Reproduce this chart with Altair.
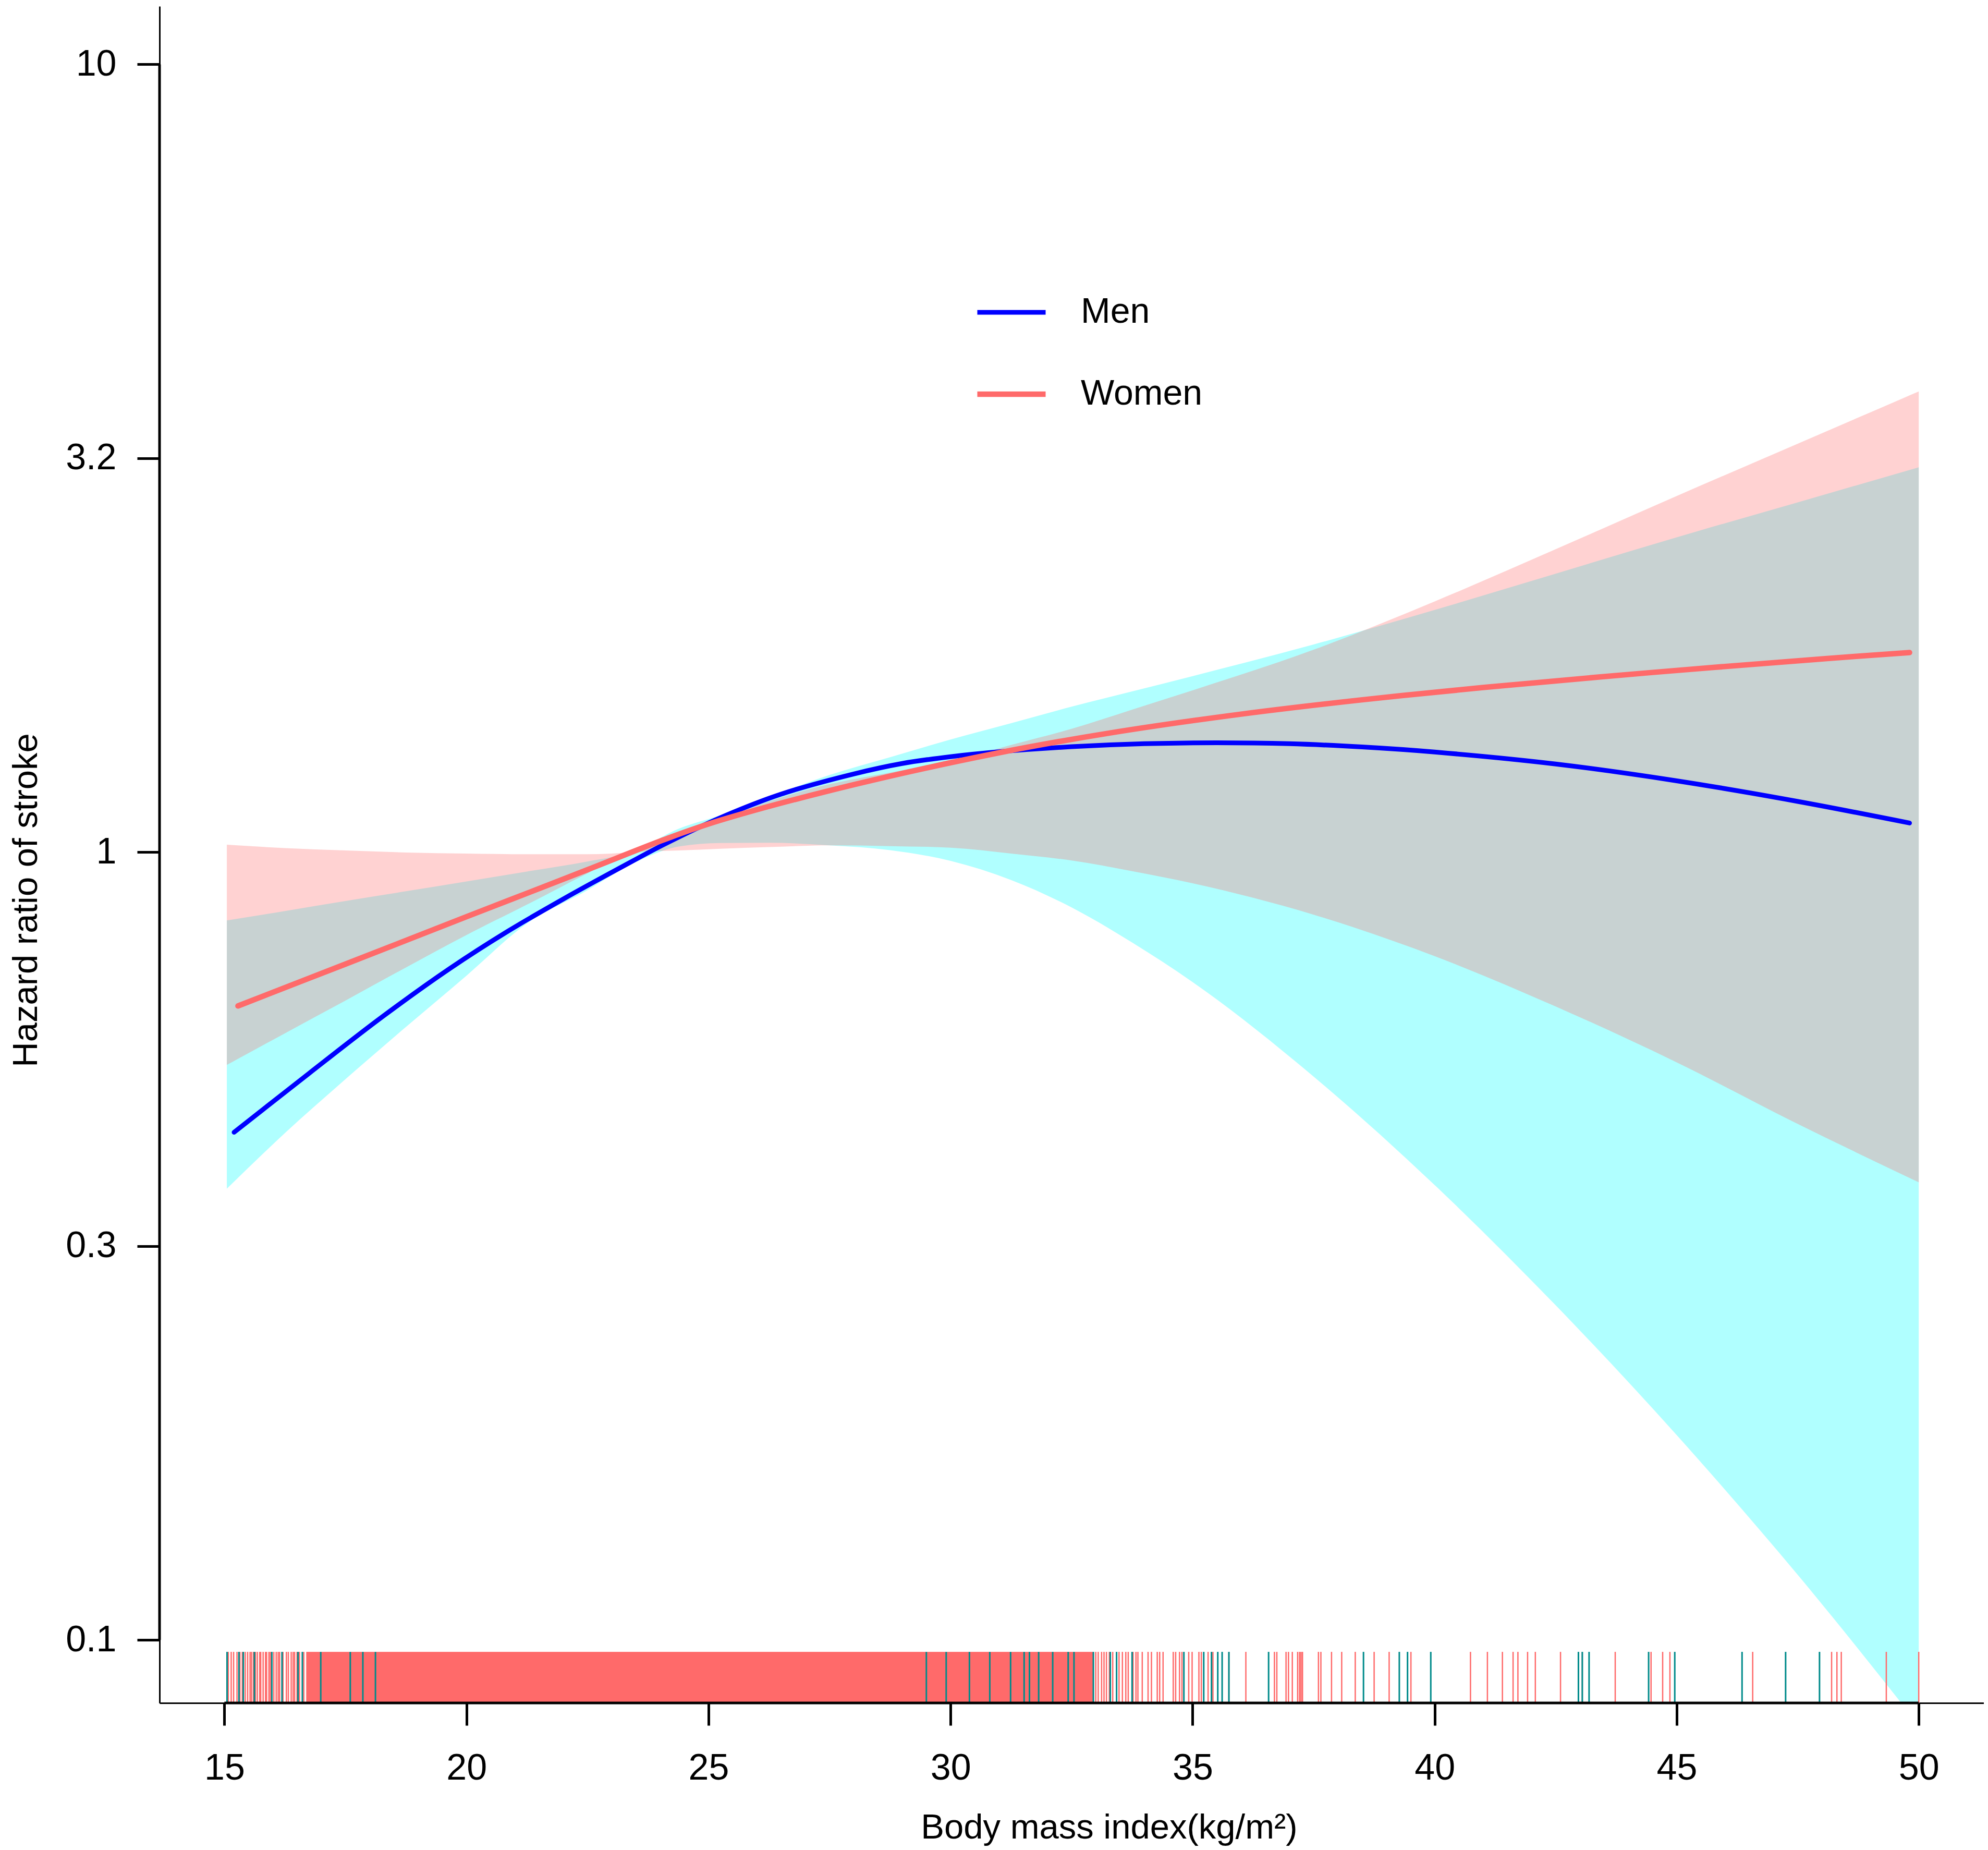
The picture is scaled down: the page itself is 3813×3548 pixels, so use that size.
import altair as alt
import pandas as pd

# ---------------- data ----------------
# confidence-band grid (BMI) and bounds (hazard ratio)
ci_bmi = [15.05, 16.25, 17.5, 18.75, 20, 21.25, 22.5, 23.4, 24.4, 25.25, 26.25, 27.5,
          28.75, 30, 31.25, 32.5, 33.75, 35, 37.5, 40, 42.5, 45, 47.5, 50]
men_upper = [0.819, 0.842, 0.867, 0.892, 0.918, 0.945, 0.973, 1.0, 1.072, 1.114, 1.175, 1.253,
             1.32, 1.39, 1.458, 1.53, 1.60, 1.673, 1.835, 2.03, 2.257, 2.51, 2.78, 3.08]
men_lower = [0.374, 0.44, 0.515, 0.60, 0.697, 0.812, 0.895, 0.965, 1.017, 1.027, 1.028, 1.02,
             1.006, 0.975, 0.922, 0.851, 0.768, 0.684, 0.519, 0.378, 0.266, 0.182, 0.121, 0.078]
women_upper = [1.022, 1.012, 1.005, 0.999, 0.996, 0.994, 0.994, 1.0, 1.055, 1.10, 1.16, 1.22,
               1.262, 1.305, 1.368, 1.434, 1.517, 1.605, 1.807, 2.081, 2.424, 2.832, 3.30, 3.844]
women_lower = [0.537, 0.589, 0.648, 0.714, 0.785, 0.858, 0.94, 1.0, 1.005, 1.01, 1.015, 1.02,
               1.018, 1.013, 0.996, 0.976, 0.946, 0.913, 0.833, 0.738, 0.637, 0.541, 0.452, 0.381]

# estimated curves
men_bmi = [15.2, 16.75, 18.26, 19.66, 20.83, 22.0, 23.17, 24.15, 25.23, 26.5, 28, 29, 30, 31,
           32.5, 34, 35.5, 37, 38.5, 40, 42.5, 45, 47.5, 49.81]
men_hr = [0.441, 0.524, 0.618, 0.712, 0.792, 0.872, 0.955, 1.028, 1.105, 1.185, 1.257, 1.296,
          1.322, 1.341, 1.361, 1.373, 1.377, 1.373, 1.36, 1.34, 1.294, 1.232, 1.16, 1.089]
women_bmi = [15.28, 17.5, 20, 22.5, 24.15, 25.23, 28.0, 30.97, 33.3, 36.0, 38.5, 41.0, 44.5,
             48.1, 49.81]
women_hr = [0.638, 0.721, 0.828, 0.950, 1.041, 1.097, 1.218, 1.336, 1.417, 1.497, 1.561, 1.618,
            1.691, 1.761, 1.792]

# rug (observed BMI values)
women_rug_dense = [16.69, 32.95]   # span where women's rug is solid
women_rug = [15.08, 15.14, 15.19, 15.26, 15.32, 15.37, 15.43, 15.48, 15.53, 15.56, 15.60, 15.64,
             15.68, 15.73, 15.75, 15.80, 15.85, 15.87, 15.92, 15.95, 16.02, 16.07, 16.11, 16.14,
             16.21, 16.28, 16.32, 16.38, 16.42, 16.45, 16.50, 16.55, 16.64,
             33.0, 33.05, 33.12, 33.17, 33.22, 33.28, 33.35, 33.48, 33.55, 33.62, 33.67, 33.77,
             33.83, 33.87, 33.96, 34.08, 34.15, 34.27, 34.32, 34.39, 34.60, 34.65, 34.73, 34.78,
             34.92, 34.99, 35.13, 35.18, 35.32, 35.42, 35.75, 36.10, 36.69, 36.74, 36.93, 36.98,
             37.06, 37.17, 37.21, 37.24, 37.27, 37.60, 37.65, 37.87, 38.08, 38.36, 38.75, 39.06,
             39.51, 40.74, 41.09, 41.40, 41.62, 41.72, 41.92, 42.08, 42.6, 43.05, 43.73, 44.47,
             44.71, 44.86, 46.57, 48.2, 48.31, 48.4, 49.33, 50.0]
men_rug = [15.055, 15.30, 15.39, 15.62, 15.98, 16.19, 16.52, 16.61, 16.99, 17.60, 17.86, 18.12,
           29.50, 29.91, 30.39, 30.81, 31.24, 31.52, 31.63, 31.82, 32.11, 32.43, 32.55, 32.95,
           33.30, 33.43, 33.75, 34.82, 35.23, 35.39, 35.52, 35.61, 35.75, 36.57, 38.53, 39.27,
           39.44, 39.92, 42.97, 43.05, 43.19, 44.42, 44.96, 46.35, 47.25, 47.95]

# axes
x_ticks = [15, 20, 25, 30, 35, 40, 45, 50]
y_ticks = [0.1, 0.3162, 1, 3.162, 10]
y_tick_labels = ["0.1", "0.3", "1", "3.2", "10"]
x_axis_span = [15, 50]
y_axis_span = [0.1, 10]
series = ["Men", "Women"]

# ---------------- styling ----------------
W, H = 3499, 3254
FONT = "Liberation Sans"
MEN_COL, WOMEN_COL = "#0000FF", "#FF6A6A"
RUG_LEN = 98

label_expr = ""
for v, l in zip(y_ticks, y_tick_labels):
    label_expr += f"abs(datum.value - {v}) < {v * 0.01} ? '{l}' : "
label_expr += "''"

xscale = alt.Scale(domain=[13.66, 13.66 + W / 92.85], nice=False, zero=False)
yscale = alt.Scale(type="log", domain=[0.0832, 11.85], nice=False)

xaxis = alt.Axis(values=x_ticks, title="Body mass index(kg/m²)", grid=False,
                 tickSize=43, tickWidth=5, tickColor="black", domainColor="black",
                 domainWidth=3, labelFontSize=70, labelFont=FONT, labelColor="black",
                 labelPadding=48, labelFlush=False, labelOverlap=False,
                 titleFont=FONT, titleFontSize=67, titleFontWeight="normal", titleColor="black",
                 titleX=1821, titleY=259, titleAlign="center", titleBaseline="alphabetic")
yaxis = alt.Axis(values=y_ticks, labelExpr=label_expr, title="Hazard ratio of stroke", grid=False,
                 tickSize=43, tickWidth=5, tickColor="black", domainColor="black",
                 domainWidth=3, labelFontSize=70, labelFont=FONT, labelColor="black",
                 labelPadding=40, labelFlush=False, labelOverlap=False,
                 titleFont=FONT, titleFontSize=67, titleFontWeight="normal", titleColor="black",
                 titleAngle=270, titleX=-236, titleY=1714, titleAlign="center",
                 titleBaseline="alphabetic")

X = alt.X("bmi:Q", scale=xscale, axis=xaxis)

ci = pd.DataFrame({"bmi": ci_bmi, "mu": men_upper, "ml": men_lower,
                   "wu": women_upper, "wl": women_lower})

men_band = alt.Chart(ci).mark_area(color="#00FFFF", opacity=0.31, interpolate="monotone",
                                   clip=True).encode(
    x=X, y=alt.Y("ml:Q", scale=yscale, axis=yaxis), y2="mu:Q")
women_band = alt.Chart(ci).mark_area(color=WOMEN_COL, opacity=0.3, interpolate="monotone",
                                     clip=True).encode(
    x=X, y=alt.Y("wl:Q", scale=yscale, axis=yaxis), y2="wu:Q")

dense = alt.Chart(pd.DataFrame({"bmi": [women_rug_dense[0]], "bmi2": [women_rug_dense[1]]})
                  ).mark_rect(color=WOMEN_COL).encode(
    x=X, x2="bmi2:Q", y=alt.value(H - RUG_LEN), y2=alt.value(H))
wrug = alt.Chart(pd.DataFrame({"bmi": women_rug})).mark_rule(color=WOMEN_COL, strokeWidth=2.5).encode(
    x=X, y=alt.value(H - RUG_LEN), y2=alt.value(H))
mrug = alt.Chart(pd.DataFrame({"bmi": men_rug})).mark_rule(color="#008B8B", strokeWidth=3).encode(
    x=X, y=alt.value(H - RUG_LEN), y2=alt.value(H))

lines_df = pd.concat([
    pd.DataFrame({"bmi": men_bmi, "hr": men_hr, "sex": series[0]}),
    pd.DataFrame({"bmi": women_bmi, "hr": women_hr, "sex": series[1]}),
])
lines = alt.Chart(lines_df).mark_line(interpolate="catmull-rom", strokeCap="round",
                                      clip=True).encode(
    x=X,
    y=alt.Y("hr:Q", scale=yscale, axis=yaxis),
    color=alt.Color("sex:N", scale=alt.Scale(domain=series, range=[MEN_COL, WOMEN_COL]),
                    legend=alt.Legend(title=None, orient="none", legendX=1563, legendY=517,
                                      symbolType="stroke", symbolSize=17161,
                                      symbolStrokeWidth=12, labelFontSize=68, labelFont=FONT,
                                      labelColor="black", labelOffset=62, rowPadding=52,
                                      padding=0, labelLimit=1000)),
    strokeWidth=alt.StrokeWidth("sex:N", scale=alt.Scale(domain=series, range=[9, 10.5]),
                                legend=None),
    order=alt.Order("bmi:Q"),
)

xspan = alt.Chart(pd.DataFrame({"bmi": [x_axis_span[0]], "bmi2": [x_axis_span[1]]})).mark_rule(
    color="black", strokeWidth=5).encode(x=X, x2="bmi2:Q", y=alt.value(H))
yspan = alt.Chart(pd.DataFrame({"hr": [y_axis_span[0]], "hr2": [y_axis_span[1]]})).mark_rule(
    color="black", strokeWidth=5).encode(
    y=alt.Y("hr:Q", scale=yscale, axis=yaxis), y2="hr2:Q", x=alt.value(0))

chart = alt.layer(men_band, women_band, dense, wrug, mrug, lines, xspan, yspan).properties(
    width=W, height=H,
    autosize=alt.AutoSizeParams(type="none"),
    padding={"left": 298, "top": 4, "right": 0, "bottom": 274},
    background="white",
).configure_view(stroke=None)

chart.save("out.html", embed_options={"renderer": "svg", "actions": False})
